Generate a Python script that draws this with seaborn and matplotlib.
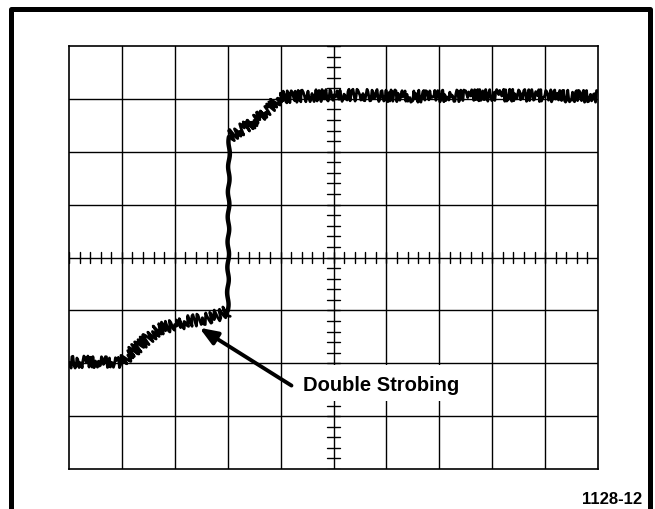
import numpy as np
import pandas as pd
import matplotlib
matplotlib.use("Agg")
import matplotlib.pyplot as plt
import seaborn as sns
from matplotlib.patches import Rectangle

# trace, in divisions (10 x 8 graticule)
low_x = [0.0, 0.5, 1.0, 1.05, 1.4, 1.7, 2.0, 2.3, 2.6, 2.85, 3.0]
low_y = [2.02, 2.03, 2.03, 2.08, 2.4, 2.65, 2.72, 2.8, 2.84, 2.92, 2.99]
jump_x = [3.0, 3.01, 3.02, 3.03]
jump_y = [2.99, 4.0, 5.5, 6.28]
high_x = [3.03, 3.1, 3.4, 3.7, 3.98, 4.5, 5.5, 6.5, 7.5, 8.5, 9.5, 10.0]
high_y = [6.28, 6.33, 6.5, 6.75, 7.03, 7.06, 7.07, 7.05, 7.06, 7.07, 7.05, 7.05]

annot_text = "Double Strobing"
fig_label = "1128-12"

sns.set_theme(style="white")
plt.rcParams['font.family'] = ['Liberation Sans', 'DejaVu Sans']
plt.rcParams['text.color'] = 'black'

fig = plt.figure(figsize=(6.55, 5.1), dpi=100)
ax = fig.add_axes([69 / 655, 1 - 470 / 510, 529 / 655, 423 / 510])

# noisy (double strobed) parts and the cleaner vertical edge
sketch = {"low": (6, 4, 2.5), "jump": (0.8, 25, 1), "high": (6, 4, 2.5)}
for name, xs, ys in [("low", low_x, low_y), ("jump", jump_x, jump_y), ("high", high_x, high_y)]:
    seg = pd.DataFrame({"x": xs, "y": ys})
    sns.lineplot(data=seg, x="x", y="y", sort=False, color="black",
                 lw=2.0 if name != "jump" else 3.2, ax=ax, zorder=5)
    ax.lines[-1].set_sketch_params(*sketch[name])

ax.set_xlim(0, 10)
ax.set_ylim(0, 8)
ax.set_xlabel("")
ax.set_ylabel("")
ax.set_xticks([])
ax.set_yticks([])
for s in ax.spines.values():
    s.set_color("black")
    s.set_linewidth(1.2)

# graticule
for gx in range(1, 10):
    ax.axvline(gx, color="black", lw=1.0, zorder=1)
for gy in range(1, 8):
    ax.axhline(gy, color="black", lw=1.0, zorder=1)

# minor ticks on the centre lines
for tx in np.arange(0, 10.01, 0.2):
    ax.plot([tx, tx], [4 - 0.095, 4 + 0.095], color="black", lw=1.0, zorder=2)
for ty in np.arange(0, 8.01, 0.2):
    ax.plot([5 - 0.115, 5 + 0.115], [ty, ty], color="black", lw=1.0, zorder=2)

# white patch behind the label
ax.add_patch(Rectangle((4.4, 1.29), 3.0, 0.67, facecolor="white", edgecolor="none", zorder=3))
ax.text(4.43, 1.6, annot_text, fontsize=14.5, fontweight="bold", color="black",
        ha="left", va="center", zorder=4)
ax.annotate("", xy=(2.42, 2.7), xytext=(4.25, 1.55),
            arrowprops=dict(arrowstyle="-|>,head_length=0.9,head_width=0.35", color="black", lw=2.8),
            zorder=6)

# outer frame of the figure
fig.add_artist(plt.Line2D([11 / 655, 11 / 655, 649.5 / 655, 649.5 / 655],
                          [-0.05, 1 - 10 / 510, 1 - 10 / 510, -0.05],
                          color="black", lw=3.6, transform=fig.transFigure))
fig.text(642 / 655, 1 - 500 / 510, fig_label, fontsize=12, fontweight="bold", color="black",
         ha="right", va="center")

fig.savefig("out.png", dpi=100)
